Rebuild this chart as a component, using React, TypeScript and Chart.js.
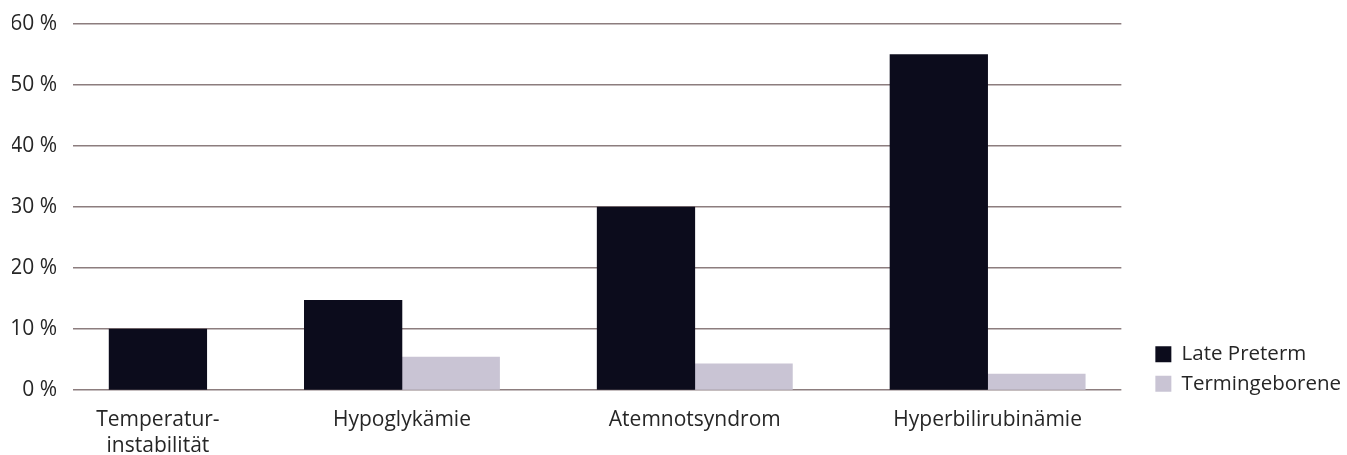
import React, { useEffect, useRef } from "react";
import { Chart, registerables } from "chart.js";

Chart.register(...registerables);

// ---- data ----
const categories: (string | string[])[] = [
  ["Temperatur-", "instabilität"],
  "Hypoglykämie",
  "Atemnotsyndrom",
  "Hyperbilirubinämie",
];
const latePreterm: number[] = [10, 14.7, 30, 55];
const termingeborene: (number | null)[] = [null, 5.4, 4.3, 2.6];
const seriesNames = ["Late Preterm", "Termingeborene"];
const yTickValues = [0, 10, 20, 30, 40, 50, 60];

// category centres on a slot axis (one slot = one bar width)
const groupCenters = [0.5, 3, 6, 9];
const slotMin = -0.37;
const slotMax = 10.37;

const FONT = "'Open Sans', 'Noto Sans', sans-serif";
const TEXT = "#262626";
const DARK = "#0c0c1c";
const LIGHT = "#c9c4d4";
const GRID = "#8c7d7e";

const legendShift = {
  id: "legendShift",
  afterLayout(chart: any) {
    const l = chart.legend;
    if (l) {
      l.top += 13;
      l.bottom += 13;
      l.left += 4;
      l.right += 4;
    }
  },
};

export default function App() {
  const ref = useRef<HTMLCanvasElement | null>(null);

  useEffect(() => {
    const prevBottom = document.body.style.marginBottom;
    const prevRight = document.body.style.marginRight;
    document.body.style.marginBottom = "0px";
    document.body.style.marginRight = "0px";
    if (!ref.current) return;
    const darkData = latePreterm.map((v, i) => ({
      x: termingeborene[i] == null ? groupCenters[i] : groupCenters[i] - 0.5,
      y: v,
    }));
    const lightData = termingeborene
      .map((v, i) => (v == null ? null : { x: groupCenters[i] + 0.5, y: v }))
      .filter((p) => p !== null) as { x: number; y: number }[];

    const chart = new Chart(ref.current, {
      type: "bar",
      data: {
        datasets: [
          {
            label: seriesNames[0],
            data: darkData,
            backgroundColor: DARK,
            borderWidth: 0,
          },
          {
            label: seriesNames[1],
            data: lightData,
            backgroundColor: LIGHT,
            borderWidth: 0,
          },
        ],
      },
      options: {
        animation: false,
        responsive: true,
        maintainAspectRatio: false,
        grouped: false,
        barPercentage: 1,
        categoryPercentage: 1,
        layout: { padding: { top: 16, left: 4, right: 0, bottom: 0 } },
        scales: {
          x: {
            type: "linear",
            min: slotMin,
            max: slotMax,
            offset: false,
            grid: { display: false, drawTicks: false, offset: false },
            border: { display: false },
            afterBuildTicks: (axis: any) => {
              axis.ticks = groupCenters.map((v) => ({ value: v }));
            },
            afterFit: (axis: any) => {
              axis.height = 65;
            },
            ticks: {
              autoSkip: false,
              maxRotation: 0,
              minRotation: 0,
              padding: 17,
              color: TEXT,
              font: { family: FONT, size: 21, lineHeight: 1.25 },
              callback: (_v: any, i: number) => categories[i] as any,
            },
          },
          y: {
            min: 0,
            max: 60,
            afterBuildTicks: (axis: any) => {
              axis.ticks = yTickValues.map((v) => ({ value: v }));
            },
            afterFit: (axis: any) => {
              axis.width = 61;
              axis.paddingTop = 0;
              axis.paddingBottom = 0;
            },
            grid: { color: GRID, lineWidth: 1.4, drawTicks: false },
            border: { display: false },
            ticks: {
              padding: 16,
              color: TEXT,
              font: { family: FONT, size: 21, lineHeight: 1.2 },
              callback: (v: any) => `${v} %`,
            },
          },
          gap: {
            type: "linear",
            position: "right",
            display: true,
            grid: { display: false, drawTicks: false },
            border: { display: false },
            ticks: { display: false },
            afterFit: (axis: any) => {
              axis.width = 21;
            },
          },
        },
        plugins: {
          legend: {
            position: "right",
            align: "end",
            fullSize: false,
            labels: {
              boxWidth: 16,
              boxHeight: 16,
              padding: 9,
              color: TEXT,
              font: { family: FONT, size: 20.5 },
            },
          },
          tooltip: { enabled: false },
        },
      } as any,
      plugins: [legendShift],
    });
    return () => {
      chart.destroy();
      document.body.style.marginBottom = prevBottom;
      document.body.style.marginRight = prevRight;
    };
  }, []);

  return (
    <div style={{ width: 1339, height: 447, position: "relative" }}>
      <canvas ref={ref} />
    </div>
  );
}
